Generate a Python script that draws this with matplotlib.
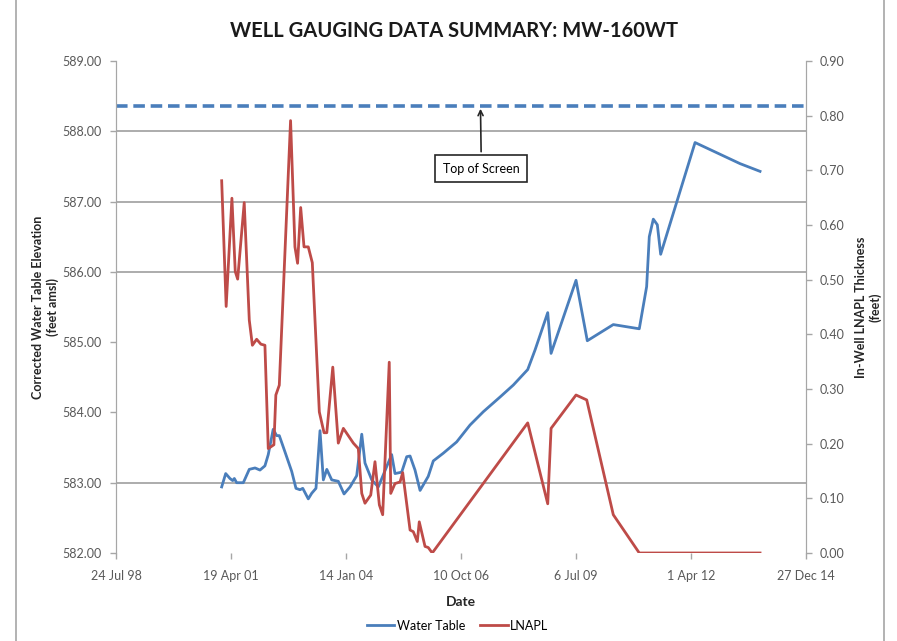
import matplotlib
matplotlib.use("Agg")
import matplotlib.pyplot as plt
import pandas as pd

# water table (left axis, feet amsl)
wt_dates = ["2001-01-28", "2001-03-04", "2001-04-10", "2001-05-04", "2001-05-18", "2001-06-07",
            "2001-08-04", "2001-09-25", "2001-11-14", "2001-12-27", "2002-02-08", "2002-03-09",
            "2002-04-21", "2002-05-21", "2002-06-13", "2002-08-01", "2002-09-29", "2002-11-05",
            "2002-12-10", "2003-01-03", "2003-02-20", "2003-03-22", "2003-04-28", "2003-06-02",
            "2003-07-01", "2003-07-31", "2003-09-12", "2003-11-08", "2003-12-28", "2004-02-18",
            "2004-04-16", "2004-05-30", "2004-06-27", "2004-08-25", "2004-10-21", "2005-01-02",
            "2005-02-14", "2005-03-15", "2005-05-12", "2005-06-25", "2005-07-24", "2005-09-05",
            "2005-10-19", "2005-12-29", "2006-02-11", "2006-05-09", "2006-09-02", "2006-12-27",
            "2007-04-22", "2007-09-15", "2008-01-08", "2008-05-12", "2008-07-15", "2008-11-02",
            "2008-12-01", "2009-07-06", "2009-10-12", "2010-05-26", "2011-01-07", "2011-03-12",
            "2011-04-04", "2011-05-09", "2011-06-13", "2011-07-12", "2012-05-06", "2013-06-01",
            "2013-11-22"]
wt_values = [582.94, 583.13, 583.06, 583.03, 583.06, 583.00,
             583.00, 583.19, 583.21, 583.18, 583.24, 583.40,
             583.76, 583.67, 583.67, 583.44, 583.16, 582.92,
             582.90, 582.92, 582.77, 582.85, 582.92, 583.74,
             583.04, 583.19, 583.04, 583.02, 582.84, 582.94,
             583.10, 583.69, 583.28, 583.04, 582.94, 583.23,
             583.40, 583.13, 583.15, 583.37, 583.38, 583.18,
             582.89, 583.09, 583.31, 583.42, 583.58, 583.82,
             584.01, 584.22, 584.39, 584.61, 584.89, 585.42,
             584.84, 585.88, 585.02, 585.25, 585.19, 585.79,
             586.50, 586.75, 586.67, 586.25, 587.84, 587.54,
             587.43]

# LNAPL thickness (right axis, feet)
ln_dates = ["2001-01-28", "2001-03-08", "2001-04-27", "2001-05-26", "2001-06-16", "2001-08-12",
            "2001-09-25", "2001-10-22", "2001-11-28", "2002-01-04", "2002-02-08", "2002-03-09",
            "2002-04-27", "2002-05-14", "2002-06-13", "2002-09-19", "2002-10-27", "2002-11-19",
            "2002-12-16", "2003-01-14", "2003-02-20", "2003-03-27", "2003-05-27", "2003-07-07",
            "2003-07-31", "2003-09-21", "2003-11-08", "2003-12-22", "2004-03-18", "2004-04-30",
            "2004-05-30", "2004-06-27", "2004-08-16", "2004-09-22", "2004-10-30", "2004-11-28",
            "2005-01-24", "2005-02-06", "2005-03-15", "2005-04-28", "2005-05-21", "2005-07-24",
            "2005-08-21", "2005-09-25", "2005-10-12", "2005-12-01", "2005-12-29", "2006-02-02",
            "2008-05-12", "2008-11-02", "2008-12-01", "2009-07-06", "2009-10-07", "2010-05-26",
            "2011-01-07", "2013-11-22"]
ln_values = [0.681, 0.451, 0.649, 0.515, 0.501, 0.641,
             0.426, 0.380, 0.391, 0.382, 0.380, 0.191,
             0.198, 0.289, 0.307, 0.791, 0.560, 0.530,
             0.632, 0.560, 0.560, 0.531, 0.258, 0.220,
             0.220, 0.340, 0.201, 0.228, 0.201, 0.191,
             0.109, 0.091, 0.106, 0.167, 0.088, 0.070,
             0.349, 0.109, 0.127, 0.130, 0.147, 0.042,
             0.039, 0.021, 0.057, 0.012, 0.010, 0.000,
             0.238, 0.090, 0.228, 0.289, 0.280, 0.070,
             0.000, 0.000]

top_of_screen = 588.36

x_ticks = ["1998-07-24", "2001-04-19", "2004-01-14", "2006-10-10", "2009-07-06", "2012-04-01", "2014-12-27"]
x_tick_labels = ["24 Jul 98", "19 Apr 01", "14 Jan 04", "10 Oct 06", "6 Jul 09", "1 Apr 12", "27 Dec 14"]
left_ticks = [582, 583, 584, 585, 586, 587, 588, 589]
right_ticks = [0.0, 0.1, 0.2, 0.3, 0.4, 0.5, 0.6, 0.7, 0.8, 0.9]
grid_levels = [583, 586, 587, 588]

plt.rcParams['font.family'] = ['Lato', 'DejaVu Sans']

blue = "#4a7ebb"
red = "#be4b48"
tick_col = "#595959"

fig = plt.figure(figsize=(8.97, 6.41), dpi=100)
ax = fig.add_axes([0.1293, 0.1373, 0.7693, 0.7675])
ax2 = ax.twinx()

xd = pd.to_datetime(x_ticks)

# Gitterlinien
for g in grid_levels:
    ax.axhline(g, color="#a6a6a6", lw=1.3, zorder=0)

# Top of Screen
ax.axhline(top_of_screen, color=blue, lw=2.6, ls=(0, (3.2, 1.6)), zorder=2)

l1, = ax.plot(pd.to_datetime(wt_dates), wt_values, color=blue, lw=2, label="Water Table", zorder=3)
l2, = ax2.plot(pd.to_datetime(ln_dates), ln_values, color=red, lw=2, label="LNAPL", zorder=3)

ax.set_xlim(xd[0], xd[-1])
ax.set_ylim(582, 589)
ax2.set_ylim(0, 0.9)
ax.set_xticks(xd)
ax.set_xticklabels(x_tick_labels)
ax.set_yticks(left_ticks)
ax.set_yticklabels([f"{v:.2f}" for v in left_ticks])
ax2.set_yticks(right_ticks)
ax2.set_yticklabels([f"{v:.2f}" for v in right_ticks])

for a in (ax, ax2):
    for s in ["top", "bottom"]:
        a.spines[s].set_visible(False)
    a.spines["left"].set_color("#a6a6a6")
    a.spines["right"].set_color("#a6a6a6")
    a.tick_params(colors="#a6a6a6", labelcolor=tick_col, labelsize=9, length=4, width=1)
ax.tick_params(axis="x", pad=8)
ax.tick_params(axis="y", pad=6)
ax2.tick_params(axis="y", pad=6)

ax.set_xlabel("Date", fontsize=10, fontweight="bold", labelpad=10, color="#262626")
ax.set_ylabel("Corrected Water Table Elevation\n(feet amsl)", fontsize=9, fontweight="bold",
              labelpad=3, color="#262626")
ax2.set_ylabel("In-Well LNAPL Thickness\n(feet)", fontsize=9, fontweight="bold",
               labelpad=7, color="#262626")

fig.suptitle("WELL GAUGING DATA SUMMARY: MW-160WT", x=0.506, y=0.968, fontsize=14.5,
             fontweight="bold", color="#1a1a1a")

ax.annotate("Top of Screen", xy=(pd.Timestamp("2007-03-28"), top_of_screen),
            xytext=(pd.Timestamp("2007-04-05"), 587.47), fontsize=9, ha="center", va="center",
            bbox=dict(boxstyle="square,pad=0.6", fc="white", ec="#262626", lw=1.2),
            arrowprops=dict(arrowstyle="->", color="#262626", lw=1.2))

fig.legend(handles=[l1, l2], loc="center", bbox_to_anchor=(0.51, 0.024), ncol=2,
           frameon=False, fontsize=9, handlelength=2.2, handletextpad=0.2, columnspacing=1.2)

# Rahmen
fig.add_artist(plt.Line2D([0.018, 0.018], [0, 1], color="#a6a6a6", lw=1.2, transform=fig.transFigure))
fig.add_artist(plt.Line2D([0.985, 0.985], [0, 1], color="#a6a6a6", lw=1.2, transform=fig.transFigure))

fig.savefig("out.png", dpi=100)
